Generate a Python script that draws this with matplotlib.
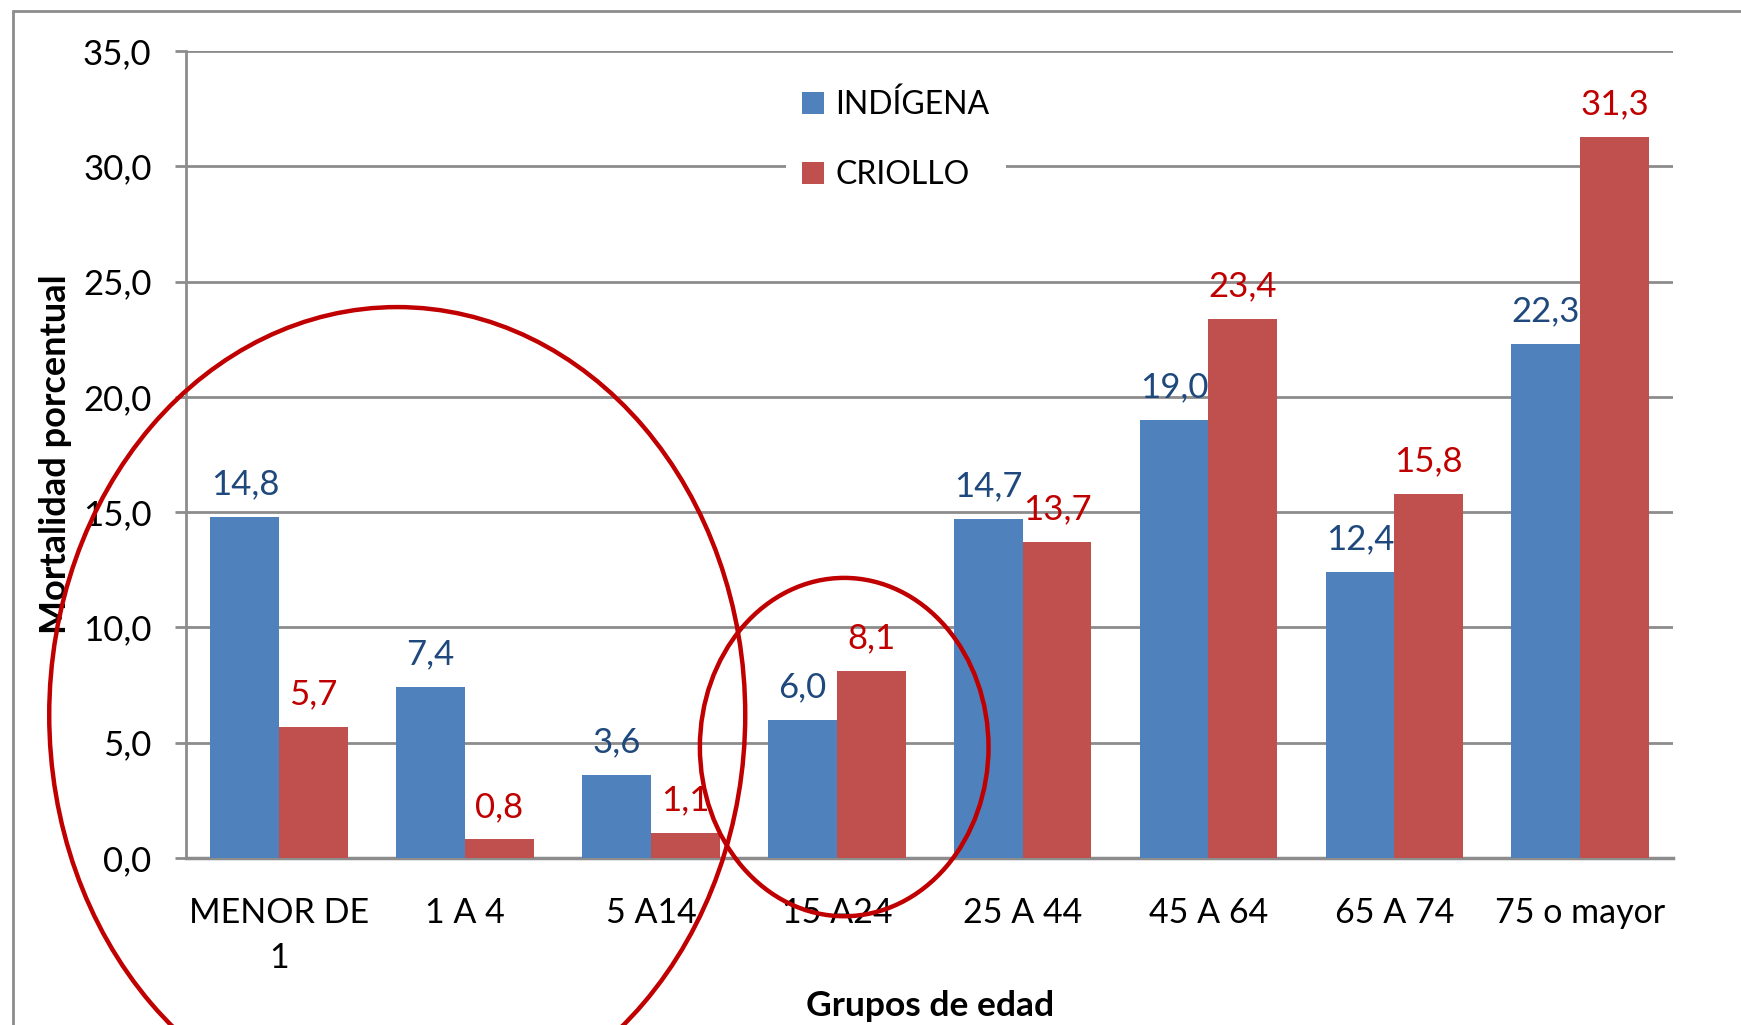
import matplotlib.pyplot as plt
import numpy as np
from matplotlib.patches import Ellipse, Rectangle

plt.rcParams['font.family'] = ['Lato', 'DejaVu Sans']

# data
grupos = ['MENOR DE\n1', '1 A 4', '5 A14', '15 A24', '25 A 44', '45 A 64', '65 A 74', '75 o mayor']
indigena = [14.8, 7.4, 3.6, 6.0, 14.7, 19.0, 12.4, 22.3]
criollo = [5.7, 0.8, 1.1, 8.1, 13.7, 23.4, 15.8, 31.3]
yticks = [0, 5, 10, 15, 20, 25, 30, 35]

col_ind = '#4F81BD'
col_cri = '#C0504D'
lab_ind = '#1F497D'
lab_cri = '#C00000'
grid_col = '#8C8C8C'

fig = plt.figure(figsize=(17.41, 10.25), dpi=100)
ax = fig.add_axes([0.107, 0.163, 0.854, 0.787])

x = np.arange(len(grupos))
w = 0.37
b1 = ax.bar(x - w / 2, indigena, w, color=col_ind, label='INDÍGENA', zorder=3)
b2 = ax.bar(x + w / 2, criollo, w, color=col_cri, label='CRIOLLO', zorder=3)

for rect, v in zip(b1, indigena):
    ax.annotate(f'{v:.1f}'.replace('.', ','), (rect.get_x() + rect.get_width() / 2, v),
                xytext=(0, 12), textcoords='offset points', ha='center', va='bottom',
                fontsize=25, color=lab_ind, zorder=5)
for rect, v in zip(b2, criollo):
    ax.annotate(f'{v:.1f}'.replace('.', ','), (rect.get_x() + rect.get_width() / 2, v),
                xytext=(0, 12), textcoords='offset points', ha='center', va='bottom',
                fontsize=25, color=lab_cri, zorder=5)

ax.set_xlim(-0.5, len(grupos) - 0.5)
ax.set_ylim(0, 35)
ax.set_yticks(yticks)
ax.set_yticklabels([f'{t:.1f}'.replace('.', ',') for t in yticks])
ax.set_xticks(x)
ax.set_xticklabels(grupos, linespacing=1.5)
ax.tick_params(axis='y', length=8, width=2, color=grid_col, pad=17, labelsize=25)
ax.tick_params(axis='x', length=0, pad=28, labelsize=24.5)
ax.yaxis.grid(True, color=grid_col, linewidth=2, zorder=0)
ax.set_axisbelow(True)
for s in ['top', 'right']:
    ax.spines[s].set_visible(False)
ax.spines['left'].set_color(grid_col)
ax.spines['left'].set_linewidth(2)
ax.spines['bottom'].set_color(grid_col)
ax.spines['bottom'].set_linewidth(2.5)

ax.set_ylabel('Mortalidad porcentual', fontsize=26, fontweight='bold', labelpad=8)
ax.set_xlabel('Grupos de edad', fontsize=25.5, fontweight='bold')
ax.xaxis.set_label_coords(0.5, -0.164)

leg = fig.legend(loc='upper left', bbox_to_anchor=(786 / 1741, 1 - 74 / 1025),
                 fontsize=23, frameon=True, facecolor='white', edgecolor='none',
                 framealpha=1, fancybox=False, handlelength=0.7, handleheight=0.7,
                 handletextpad=0.35, labelspacing=1.25, borderpad=0.5, borderaxespad=0)
leg.set_zorder(4)

# red ellipses highlighting the groups
ax.add_patch(Ellipse((0.635, 6.2), 3.745, 35.4, fill=False, edgecolor='#C00000',
                     linewidth=3.2, clip_on=False, zorder=6))
ax.add_patch(Ellipse((3.04, 4.81), 1.553, 14.68, fill=False, edgecolor='#C00000',
                     linewidth=3.2, clip_on=False, zorder=6))

# outer chart border
fig.patches.append(Rectangle((13 / 1741, -0.1), 1.2, 1 - 11 / 1025 + 0.1,
                             transform=fig.transFigure, fill=False,
                             edgecolor='#8C8C8C', linewidth=2))

fig.savefig('out.png', dpi=100)
